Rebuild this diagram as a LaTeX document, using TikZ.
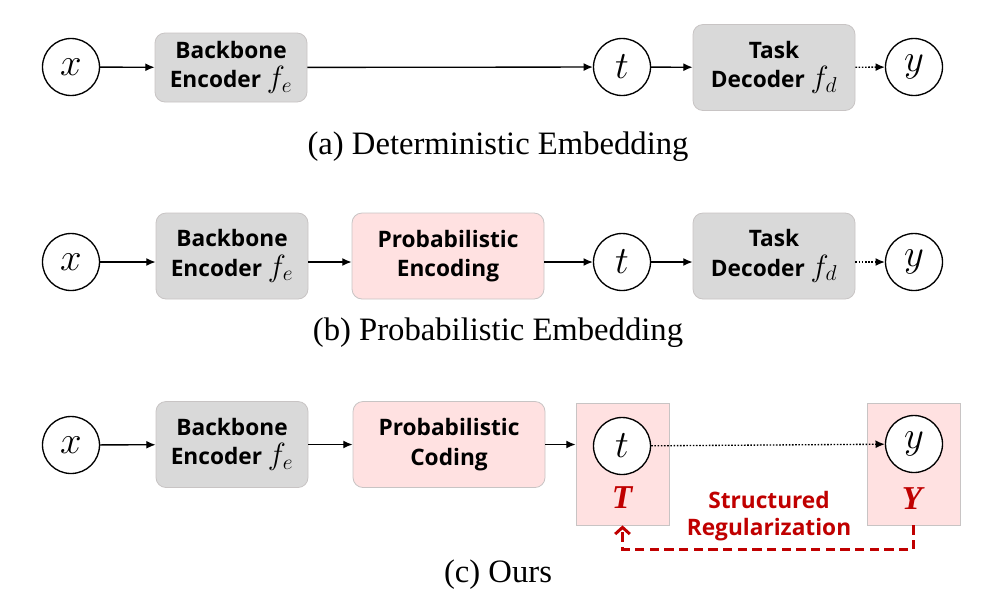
\documentclass[tikz,border=0pt]{standalone}
\usepackage{fix-cm}
\usepackage{fontspec}
\setmainfont{Liberation Serif}
\newfontfamily\boxfont{Open Sans}
\usetikzlibrary{arrows.meta}
\definecolor{boxgray}{RGB}{217,217,217}
\definecolor{boxpink}{RGB}{255,225,225}
\definecolor{darkred}{RGB}{192,0,0}
\definecolor{edgegray}{RGB}{200,196,196}
\newcommand{\fn}[1]{{\fontsize{23}{22}\selectfont$f_{#1}$}}

\begin{document}
\begin{tikzpicture}[x=0.75pt,y=-0.75pt,
    var/.style={circle,draw,line width=1pt,fill=white,minimum size=42.75pt,inner sep=0pt,font=\fontsize{29}{30}\selectfont},
    block/.style={rounded corners=7.5pt,draw=edgegray,line width=0.6pt,minimum width=114pt,minimum height=64.5pt,align=center,inner sep=0pt,font=\boxfont\bfseries\fontsize{17}{22}\selectfont},
    grayblock/.style={block,fill=boxgray},
    pinkblock/.style={block,fill=boxpink,minimum width=144pt},
    panel/.style={draw=edgegray,fill=boxpink,line width=0.6pt,minimum width=69.75pt,minimum height=91.5pt,inner sep=0pt},
    caption/.style={font=\fontsize{24.5}{30}\selectfont},
    flow/.style={-{Latex[length=7pt,width=6pt]},line width=1pt},
    dotflow/.style={flow,dash pattern=on 1.2pt off 1.2pt},
    regflow/.style={-{Straight Barb[length=5pt,width=11pt]},draw=darkred,line width=2.2pt,dash pattern=on 7pt off 4pt},
    reglabel/.style={text=darkred,align=center,font=\boxfont\bfseries\fontsize{17}{20}\selectfont},
    capital/.style={text=darkred,font=\bfseries\itshape\fontsize{25}{28}\selectfont}]
    \useasboundingbox (0,0) rectangle (998,615);

    % (a) deterministic
    \node[var] (xa) at (71,67) {$x$};
    \node[grayblock,minimum height=51.75pt] (enca) at (231,67.5) {Backbone\\Encoder \fn{e}};
    \node[var] (ta) at (622,67) {$t$};
    \node[grayblock,minimum width=121.5pt] (deca) at (774,67.5) {Task\\Decoder \fn{d}};
    \node[var] (ya) at (914,67) {$y$};
    \node[caption] (capa) at (498,147) {(a) Deterministic Embedding};
    \draw[flow] (xa) -- (enca);
    \draw[flow] (enca) -- (ta);
    \draw[flow] (ta) -- (deca);
    \draw[dotflow] (deca) -- (ya);

    % (b) probabilistic
    \node[var] (xb) at (71,262) {$x$};
    \node[grayblock] (encb) at (232,256) {Backbone\\Encoder \fn{e}};
    \node[pinkblock] (probb) at (448,256) {Probabilistic\\Encoding};
    \node[var] (tb) at (622,262) {$t$};
    \node[grayblock,minimum width=121.5pt] (decb) at (774,256) {Task\\Decoder \fn{d}};
    \node[var] (yb) at (914,262) {$y$};
    \node[caption] (capb) at (498,333) {(b) Probabilistic Embedding};
    \draw[flow] (xb) -- (encb.west |- xb);
    \draw[flow] (encb.east |- xb) -- (probb.west |- xb);
    \draw[flow] (probb.east |- tb) -- (tb);
    \draw[flow] (tb) -- (decb.west |- tb);
    \draw[dotflow] (decb.east |- yb) -- (yb);

    % (c) ours
    \node[var] (xc) at (71,445) {$x$};
    \node[grayblock] (encc) at (232,444.5) {Backbone\\Encoder \fn{e}};
    \node[pinkblock] (probc) at (449,444.5) {Probabilistic\\Coding};
    \node[panel] (tpanel) at (622.5,464) {};
    \node[panel] (ypanel) at (913.5,464) {};
    \node[var] (tc) at (622,446) {$t$};
    \node[var] (yc) at (914,444) {$y$};
    \node[capital] (tcap) at (622,498) {T};
    \node[capital] (ycap) at (912,499) {Y};
    \node[reglabel] (reg) at (769,516) {Structured\\Regularization};
    \node[caption] (capc) at (498,575) {(c) Ours};
    \draw[flow] (xc) -- (encc);
    \draw[flow] (encc) -- (probc);
    \draw[flow] (probc) -- (tpanel.west |- probc);
    \draw[dotflow] (tc) -- (yc);
    \draw[regflow] (ypanel.south) -- ++(0,24) -| (tpanel.south);
\end{tikzpicture}
\end{document}
